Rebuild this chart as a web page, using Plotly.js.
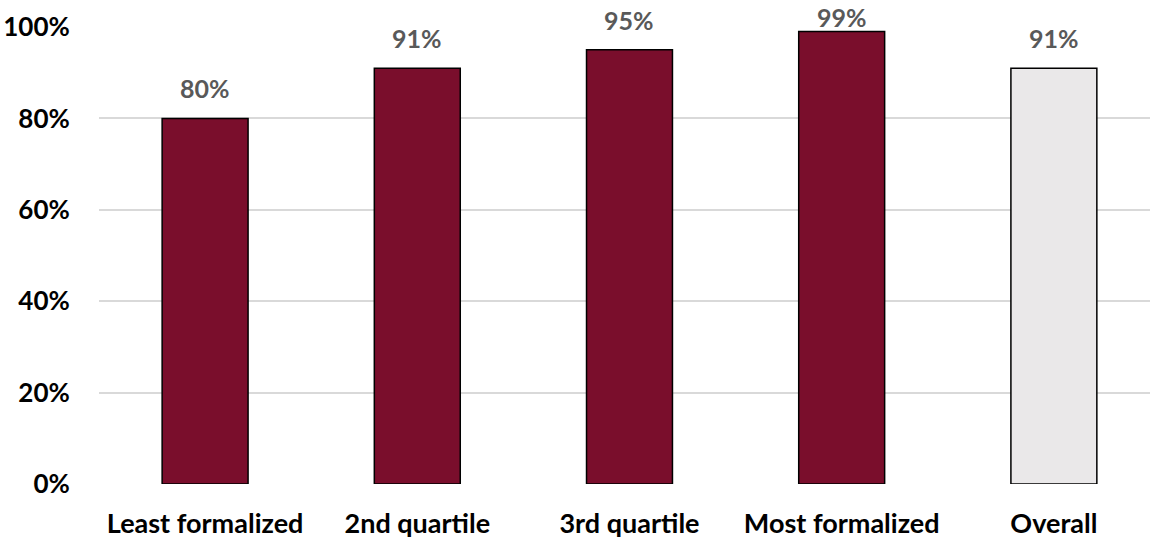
<!DOCTYPE html>
<html>
<head>
<meta charset="utf-8">
<script src="https://cdn.plot.ly/plotly-3.0.1.min.js"></script>
<style>html,body{margin:0;padding:0;background:#fff;}#chart{width:1150px;height:538px;}</style>
</head>
<body>
<div id="chart"></div>
<script>
const categories = ["Least formalized", "2nd quartile", "3rd quartile", "Most formalized", "Overall"];
const values = [80, 91, 95, 99, 91];
const barColors = ["#7A0E2C", "#7A0E2C", "#7A0E2C", "#7A0E2C", "#EAE8E9"];
const valueLabels = ["80%", "91%", "95%", "99%", "91%"];
const yTickVals = [0, 20, 40, 60, 80, 100];
const yTickText = ["0%", "20%", "40%", "60%", "80%", "100%"];

const FONT = "Lato, 'Open Sans', sans-serif";
const TOP = 27, PLOT_H = 457;

const trace = {
  type: "bar",
  x: categories,
  y: values,
  width: 0.405,
  marker: { color: barColors, line: { color: "#000000", width: 1.5 } },
  hoverinfo: "skip"
};

// labels sit above bars, but are kept from running off the top of the chart
const annotations = categories.map((c, i) => {
  const barTop = TOP + (1 - values[i] / 100) * PLOT_H;
  const shift = Math.min(13, barTop - 15 - 19);
  return {
    x: c, y: values[i], xref: "x", yref: "y",
    text: "<b>" + valueLabels[i] + "</b>",
    showarrow: false, yanchor: "bottom", yshift: shift,
    font: { family: FONT, size: 25, color: "#595959" }
  };
});

const layout = {
  width: 1150, height: 538,
  margin: { l: 99, r: 0, t: TOP, b: 54 },
  paper_bgcolor: "#ffffff", plot_bgcolor: "#ffffff",
  showlegend: false,
  font: { family: FONT, size: 24, color: "#000000" },
  xaxis: {
    type: "category",
    range: [-0.5, 4.453],
    showgrid: false, zeroline: false, showline: false,
    ticks: "outside", ticklen: 16, tickcolor: "rgba(0,0,0,0)",
    tickfont: { family: FONT, size: 27, color: "#000000", weight: "bold" }
  },
  yaxis: {
    range: [0, 100],
    tickvals: yTickVals, ticktext: yTickText,
    showgrid: true, gridcolor: "#D9D9D9", gridwidth: 2,
    zeroline: false, showline: false,
    ticks: "outside", ticklen: 23, tickcolor: "rgba(0,0,0,0)",
    tickfont: { family: FONT, size: 26, color: "#000000", weight: "bold" }
  },
  annotations: annotations
};

Plotly.newPlot("chart", [trace], layout, { staticPlot: true, displayModeBar: false });
</script>
</body>
</html>
